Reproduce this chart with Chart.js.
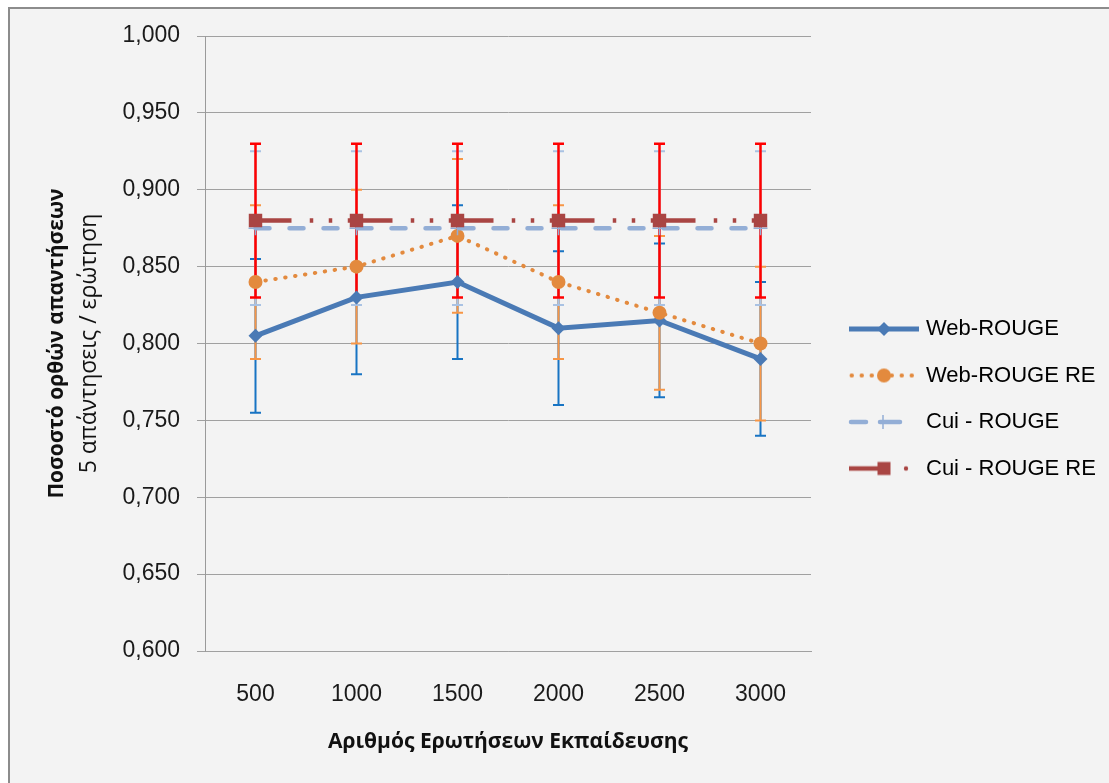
<!DOCTYPE html>
<html><head><meta charset="utf-8">
<script src="https://cdn.jsdelivr.net/npm/chart.js@4.4.1/dist/chart.umd.min.js"></script>
<style>html,body{margin:0;padding:0;background:#fff;overflow:hidden}#wrap{width:1109px;height:783px;position:relative}</style>
</head><body><div id="wrap"><canvas id="c" width="1109" height="783"></canvas></div>
<script>
// ---- data ----
const categories = ['500', '1000', '1500', '2000', '2500', '3000'];
const webRouge = [0.805, 0.830, 0.840, 0.810, 0.815, 0.790];
const webRougeErr = [0.05, 0.05, 0.05, 0.05, 0.05, 0.05];
const webRougeRE = [0.840, 0.850, 0.870, 0.840, 0.820, 0.800];
const webRougeREErr = [0.05, 0.05, 0.05, 0.05, 0.05, 0.05];
const cuiRouge = [0.875, 0.875, 0.875, 0.875, 0.875, 0.875];
const cuiRougeErr = [0.05, 0.05, 0.05, 0.05, 0.05, 0.05];
const cuiRougeRE = [0.880, 0.880, 0.880, 0.880, 0.880, 0.880];
const cuiRougeREErr = [0.05, 0.05, 0.05, 0.05, 0.05, 0.05];
const seriesNames = ['Web-ROUGE', 'Web-ROUGE RE', 'Cui - ROUGE', 'Cui - ROUGE RE'];
const yTitleLines = ['Ποσοστό ορθών απαντήσεων', '5 απάντησεις / ερώτηση'];
const xTitle = 'Αριθμός Ερωτήσεων Εκπαίδευσης';
const yMin = 0.6, yMax = 1.0, yStep = 0.05;

// ---- styles ----
const C = {
  web: '#4A7AB5', webErr: '#1874C3',
  re: '#E38A3E', reErr: '#F79646',
  cui: '#93AED6', cuiErr: '#A9C2E3',
  cuiRe: '#A94543', cuiReErr: '#FF0000'
};
const cuiReDash = [36, 18.25, 3.5, 15.5, 3.5, 15.5, 3.5, 5.25];
const tickFont = {family: 'Liberation Sans', size: 23};
const titleFont = {family: 'Open Sans', size: 21, weight: 'bold'};

function makeIcon(i) {
  const cv = document.createElement('canvas');
  cv.width = 76; cv.height = 24;
  const g = cv.getContext('2d');
  const cy = 12, cx = 40;
  g.lineWidth = 4.5;
  if (i === 0) {
    g.strokeStyle = C.web; g.lineWidth = 5; g.beginPath(); g.moveTo(5, cy); g.lineTo(75, cy); g.stroke();
    g.fillStyle = C.web; g.beginPath(); g.moveTo(cx - 7, cy); g.lineTo(cx, cy - 7); g.lineTo(cx + 7, cy); g.lineTo(cx, cy + 7); g.closePath(); g.fill();
  } else if (i === 1) {
    g.strokeStyle = C.re; g.lineWidth = 4; g.lineCap = 'round'; g.setLineDash([0.5, 9.5]);
    g.beginPath(); g.moveTo(7.5, cy); g.lineTo(72, cy); g.stroke();
    g.fillStyle = C.re; g.beginPath(); g.arc(cx, cy, 7, 0, Math.PI * 2); g.fill();
  } else if (i === 2) {
    g.strokeStyle = C.cui; g.lineCap = 'round';
    g.beginPath(); g.moveTo(7, cy); g.lineTo(22, cy); g.stroke();
    g.beginPath(); g.moveTo(36, cy); g.lineTo(56, cy); g.stroke();
    g.lineWidth = 1.5; g.lineCap = 'butt';
    g.beginPath(); g.moveTo(cx - 1, cy - 7); g.lineTo(cx - 1, cy + 7); g.stroke();
  } else {
    g.strokeStyle = C.cuiRe;
    g.beginPath(); g.moveTo(5, cy); g.lineTo(36, cy); g.stroke();
    g.fillStyle = C.cuiRe; g.fillRect(cx - 6.5, cy - 6.5, 13, 13);
    g.beginPath(); g.arc(62, cy, 2.2, 0, Math.PI * 2); g.fill();
  }
  return cv;
}
const icons = [0, 1, 2, 3].map(makeIcon);

const errSpecs = [
  {values: webRouge, errors: webRougeErr, color: C.webErr, width: 2},
  {values: webRougeRE, errors: webRougeREErr, color: C.reErr, width: 2},
  {values: cuiRouge, errors: cuiRougeErr, color: C.cuiErr, width: 2},
  {values: cuiRougeRE, errors: cuiRougeREErr, color: C.cuiReErr, width: 2.5}
];

const bgPlugin = {
  id: 'bg',
  beforeDraw(chart) {
    const {ctx, width, height} = chart;
    ctx.save();
    ctx.fillStyle = '#ffffff'; ctx.fillRect(0, 0, width, height);
    ctx.fillStyle = '#F3F3F3'; ctx.fillRect(9, 8, width - 9, height - 8);
    ctx.strokeStyle = '#8C8C8C'; ctx.lineWidth = 2;
    ctx.beginPath(); ctx.moveTo(9, height); ctx.lineTo(9, 8); ctx.lineTo(width, 8); ctx.stroke();
    ctx.restore();
  },
  afterDraw(chart) {
    const ctx = chart.ctx;
    ctx.save();
    ctx.translate(89, (chart.chartArea.top + chart.chartArea.bottom) / 2);
    ctx.rotate(-Math.PI / 2);
    ctx.font = '23px "Open Sans"';
    ctx.fillStyle = '#111';
    ctx.textAlign = 'center'; ctx.textBaseline = 'middle';
    ctx.fillText(yTitleLines[1], 0, 0);
    ctx.restore();
  }
};

const errPlugin = {
  id: 'errbars',
  beforeDatasetsDraw(chart) {
    const {ctx, scales: {x, y}} = chart;
    ctx.save();
    errSpecs.forEach(s => {
      ctx.strokeStyle = s.color; ctx.lineWidth = s.width; ctx.lineCap = 'butt';
      s.values.forEach((v, i) => {
        const px = x.getPixelForValue(i);
        const t = y.getPixelForValue(v + s.errors[i]);
        const b = y.getPixelForValue(v - s.errors[i]);
        ctx.beginPath();
        ctx.moveTo(px, t); ctx.lineTo(px, b);
        ctx.moveTo(px - 5.5, t); ctx.lineTo(px + 5.5, t);
        ctx.moveTo(px - 5.5, b); ctx.lineTo(px + 5.5, b);
        ctx.stroke();
      });
    });
    ctx.restore();
  }
};

const legendPlugin = {
  id: 'legendFix',
  beforeLayout(chart) {
    const lg = chart.legend;
    if (lg && !lg.__patched) {
      const orig = lg.fit.bind(lg);
      lg.fit = function () { orig(); this.width = 1109 - 811; };
      lg.__patched = true;
    }
  },
  afterLayout(chart) {
    const lg = chart.legend;
    if (!lg || !lg.columnSizes || !lg.columnSizes.length) return;
    const pad = lg.options.labels.padding;
    const cur = (lg.top + pad + lg.bottom - lg.columnSizes[0].height) / 2;
    const d = 318 - cur;
    lg.top += d; lg.bottom += d;
    const dx = (849 - pad) - lg.left;
    lg.left += dx; lg.right += dx;
  }
};

new Chart(document.getElementById('c'), {
  type: 'line',
  data: {
    labels: categories,
    datasets: [
      {label: seriesNames[0], data: webRouge, borderColor: C.web, backgroundColor: C.web, borderWidth: 5,
       pointStyle: 'rectRot', pointRadius: 7, pointBorderWidth: 0, pointBackgroundColor: C.web, order: 4},
      {label: seriesNames[1], data: webRougeRE, borderColor: C.re, backgroundColor: C.re, borderWidth: 4,
       borderDash: [0.5, 9.5], borderCapStyle: 'round',
       pointStyle: 'circle', pointRadius: 7, pointBorderWidth: 0, pointBackgroundColor: C.re, order: 3},
      {label: seriesNames[2], data: cuiRouge, borderColor: C.cui, backgroundColor: C.cui, borderWidth: 4.5,
       borderDash: [14, 20], borderCapStyle: 'round',
       pointStyle: 'cross', pointRadius: 7, pointBorderWidth: 1.5, pointBorderColor: C.cui, order: 2},
      {label: seriesNames[3], data: cuiRougeRE, borderColor: C.cuiRe, backgroundColor: C.cuiRe, borderWidth: 4.5,
       borderDash: cuiReDash,
       pointStyle: 'rect', pointRadius: 9.5, pointBorderWidth: 0, pointBackgroundColor: C.cuiRe, order: 1}
    ]
  },
  options: {
    responsive: false,
    devicePixelRatio: 1,
    animation: false,
    layout: {padding: {top: 36, left: 0, right: 0, bottom: 0}},
    plugins: {
      tooltip: {enabled: false},
      legend: {
        display: true, position: 'right',
        labels: {
          usePointStyle: true, pointStyleWidth: 66, padding: 24.5,
          font: {family: 'Liberation Sans', size: 22}, color: '#111',
          generateLabels(chart) {
            return chart.data.datasets.map((ds, i) => ({
              text: ds.label, datasetIndex: i, pointStyle: icons[i],
              fillStyle: 'rgba(0,0,0,0)', strokeStyle: 'rgba(0,0,0,0)', lineWidth: 0, hidden: false
            }));
          }
        }
      }
    },
    scales: {
      x: {
        offset: true,
        grid: {display: false, drawTicks: false},
        border: {display: true, color: '#A0A0A0', width: 1},
        ticks: {font: tickFont, color: '#1a1a1a', padding: 30, maxRotation: 0},
        title: {display: true, text: xTitle, font: titleFont, color: '#111', padding: {top: 0, bottom: 28}},
        afterFit(s) { s.height = 132; }
      },
      y: {
        min: yMin, max: yMax,
        ticks: {stepSize: yStep, font: tickFont, color: '#1a1a1a', padding: 17,
                callback: v => v.toFixed(3).replace('.', ',')},
        grid: {color: '#A0A0A0', lineWidth: 1, tickLength: 8, drawTicks: true},
        border: {display: true, color: '#9A9A9A', width: 1},
        title: {display: true, text: yTitleLines[0], font: titleFont, color: '#111', padding: {top: 44, bottom: 0}},
        afterFit(s) { s.width = 205; }
      }
    }
  },
  plugins: [bgPlugin, errPlugin, legendPlugin]
});
</script>
</body></html>
